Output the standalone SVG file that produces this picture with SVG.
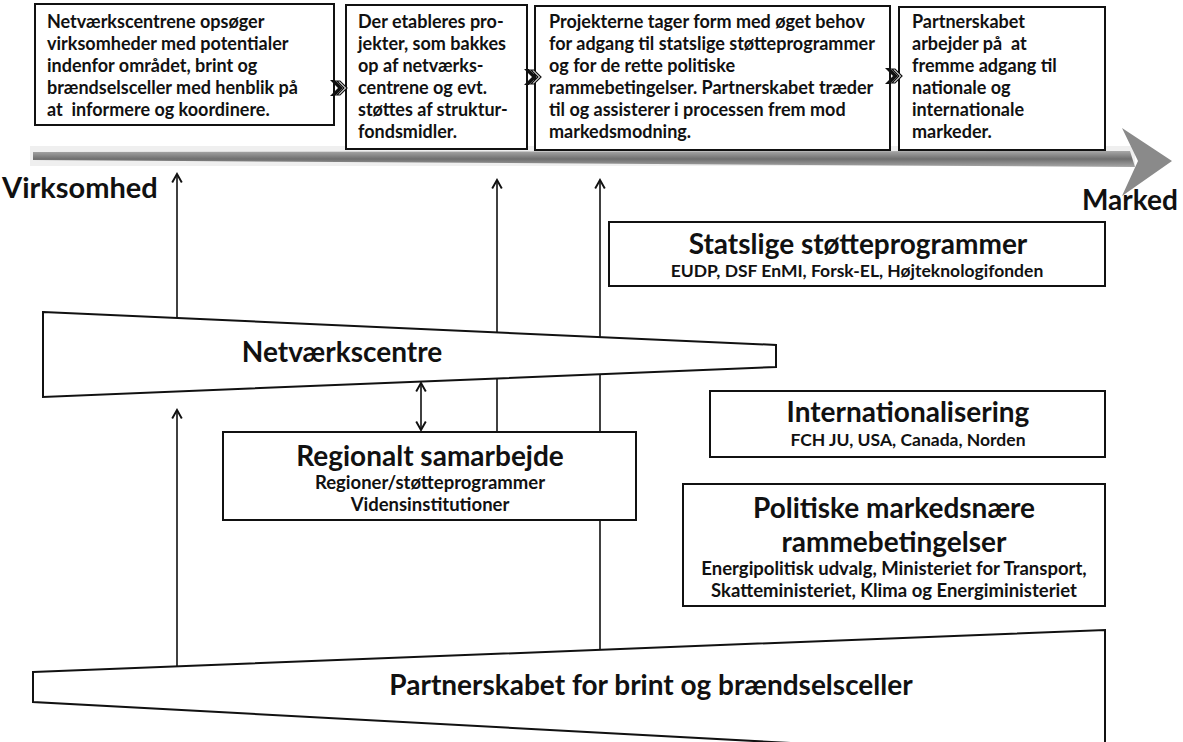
<svg xmlns="http://www.w3.org/2000/svg" width="1183" height="742" viewBox="0 0 1183 742">
<style>
.t{font-family:Lato,"Liberation Sans",sans-serif;font-weight:700;fill:#111}
.bx{fill:#fff;stroke:#111;stroke-width:2}
.ln{stroke:#111;stroke-width:1.6;fill:none}
.s{font-size:18px}
.h{font-size:28px}
.sub{font-size:17.5px}
.sub2{font-size:18.5px}
.c{text-anchor:middle}
</style>
<defs>
<marker id="ah" markerUnits="userSpaceOnUse" markerWidth="12" markerHeight="12" viewBox="0 0 10 10" refX="8" refY="5" orient="auto-start-reverse">
<path d="M1,1 L8,5 L1,9" fill="none" stroke="#111" stroke-width="1.6"/>
</marker>
<g id="chev">
<path d="M-8,-8 L0,0 L-8,8 L-3,8 L5,0 L-3,-8 Z" fill="#111"/>
<path d="M-1,-7 L6,0 L-1,7 L2,7 L9,0 L2,-7 Z" fill="#fff" stroke="#111" stroke-width="1.2"/>
</g>
<linearGradient id="gb" x1="0" y1="0" x2="0" y2="1">
<stop offset="0" stop-color="#a8a8a8"/>
<stop offset="0.5" stop-color="#6f6f6f"/>
<stop offset="1" stop-color="#a8a8a8"/>
</linearGradient>
</defs>
<rect width="1183" height="742" fill="#fff"/>

<g id="timeline">
<rect x="30" y="146" width="1105" height="20" fill="#efefef"/>
<path d="M33,152 L1130,151 L1135,167 L33,160 Z" fill="url(#gb)"/>
<path d="M1122,128 L1172,161 L1122,196 L1138,161 Z" fill="#8a8a8a"/>
</g>

<g id="step1">
<rect class="bx" x="35" y="4" width="299" height="121"/>
<text class="t s" x="47" y="28">Netværkscentrene opsøger</text>
<text class="t s" x="47" y="50">virksomheder med potentialer</text>
<text class="t s" x="47" y="72">indenfor området, brint og</text>
<text class="t s" x="47" y="94">brændselsceller med henblik på</text>
<text class="t s" x="47" y="116" xml:space="preserve">at  informere og koordinere.</text>
</g>
<g id="step2">
<rect class="bx" x="346" y="5" width="181" height="144"/>
<text class="t s" x="358" y="28">Der etableres pro-</text>
<text class="t s" x="358" y="50">jekter, som bakkes</text>
<text class="t s" x="358" y="72">op af netværks-</text>
<text class="t s" x="358" y="94">centrene og evt.</text>
<text class="t s" x="358" y="116">støttes af struktur-</text>
<text class="t s" x="358" y="138">fondsmidler.</text>
</g>
<g id="step3">
<rect class="bx" x="535" y="6" width="355" height="144"/>
<text class="t s" x="549" y="28">Projekterne tager form med øget behov</text>
<text class="t s" x="549" y="50">for adgang til statslige støtteprogrammer</text>
<text class="t s" x="549" y="72">og for de rette politiske</text>
<text class="t s" x="549" y="94">rammebetingelser. Partnerskabet træder</text>
<text class="t s" x="549" y="116">til og assisterer i processen frem mod</text>
<text class="t s" x="549" y="138">markedsmodning.</text>
</g>
<g id="step4">
<rect class="bx" x="899" y="7" width="206" height="143"/>
<text class="t s" x="912" y="28">Partnerskabet</text>
<text class="t s" x="912" y="50" xml:space="preserve">arbejder på  at</text>
<text class="t s" x="912" y="72">fremme adgang til</text>
<text class="t s" x="912" y="94">nationale og</text>
<text class="t s" x="912" y="116">internationale</text>
<text class="t s" x="912" y="138">markeder.</text>
</g>
<g id="chevrons">
<use href="#chev" x="338" y="88"/>
<use href="#chev" x="532" y="77"/>
<use href="#chev" x="893" y="76"/>
</g>

<g id="axis-labels">
<text class="t" x="2" y="198" font-size="29">Virksomhed</text>
<text class="t" x="1082" y="210" font-size="28">Marked</text>
</g>

<g id="connectors">
<line class="ln" x1="177" y1="325" x2="177" y2="174" marker-end="url(#ah)"/>
<line class="ln" x1="177" y1="680" x2="177" y2="410" marker-end="url(#ah)"/>
<line class="ln" x1="497" y1="440" x2="497" y2="180" marker-end="url(#ah)"/>
<line class="ln" x1="600" y1="665" x2="600" y2="180" marker-end="url(#ah)"/>
<line class="ln" x1="421" y1="383" x2="421" y2="430" marker-start="url(#ah)" marker-end="url(#ah)"/>
</g>

<g id="netvaerkscentre">
<polygon class="bx" points="43,312 776,345 776,367 43,397"/>
<text class="t h c" x="342" y="362">Netværkscentre</text>
</g>
<g id="regionalt">
<rect class="bx" x="223" y="432" width="413" height="88"/>
<text class="t h c" x="430" y="466">Regionalt samarbejde</text>
<text class="t sub2 c" x="430" y="489">Regioner/støtteprogrammer</text>
<text class="t sub2 c" x="430" y="511">Vidensinstitutioner</text>
</g>
<g id="statslige">
<rect class="bx" x="609" y="222" width="496" height="64"/>
<text class="t h c" x="858" y="254">Statslige støtteprogrammer</text>
<text class="t sub c" x="857" y="277">EUDP, DSF EnMI, Forsk-EL, Højteknologifonden</text>
</g>
<g id="internationalisering">
<rect class="bx" x="710" y="391" width="395" height="66"/>
<text class="t h c" x="908" y="422">Internationalisering</text>
<text class="t sub c" x="908" y="446">FCH JU, USA, Canada, Norden</text>
</g>
<g id="politiske">
<rect class="bx" x="683" y="484" width="422" height="122"/>
<text class="t h c" x="894" y="518">Politiske markedsnære</text>
<text class="t h c" x="894" y="552">rammebetingelser</text>
<text class="t sub2 c" x="894" y="575">Energipolitisk udvalg, Ministeriet for Transport,</text>
<text class="t sub2 c" x="894" y="597">Skatteministeriet, Klima og Energiministeriet</text>
</g>
<g id="partnerskabet">
<polygon class="bx" points="33,672 1105,630 1105,760 33,702"/>
<text class="t h c" x="651" y="695">Partnerskabet for brint og brændselsceller</text>
</g>
</svg>
